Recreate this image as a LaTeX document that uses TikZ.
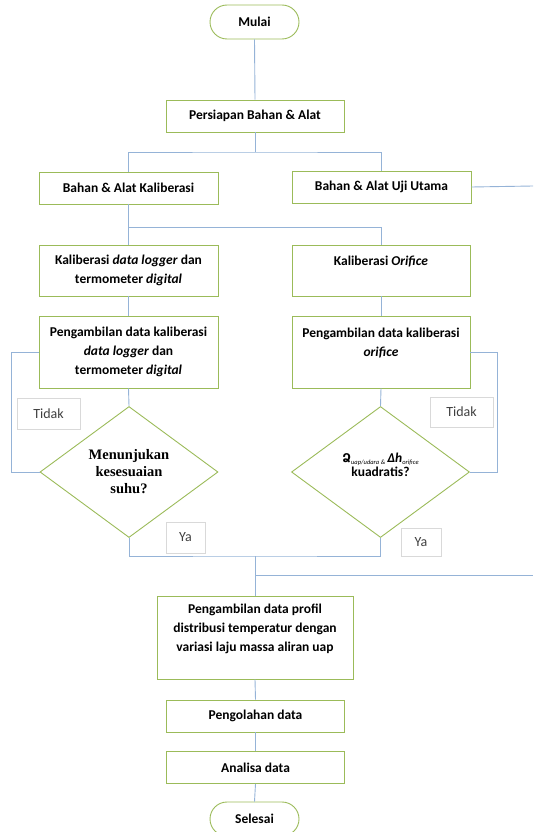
\documentclass[tikz,border=0pt]{standalone}
\usepackage{fontspec}
\setmainfont{Carlito}
\newfontfamily\serifface{Liberation Serif}
\newfontfamily\armface{DejaVu Sans}
\usetikzlibrary{shapes.geometric}
\definecolor{boxgreen}{RGB}{155,187,89}
\definecolor{lineblue}{RGB}{149,179,215}
\definecolor{taggray}{RGB}{217,217,217}
\begin{document}
\begin{tikzpicture}[x=1pt, y=-1pt,
  every node/.style={font=\fontsize{13.5}{19}\selectfont\bfseries, align=center, inner sep=1pt},
  proc/.style={draw=boxgreen, line width=0.9pt, shape=rectangle, minimum width=179pt, minimum height=32pt},
  term/.style={proc, rounded corners=17pt, minimum width=89pt, minimum height=34pt},
  decide/.style={draw=boxgreen, line width=0.9pt, shape=diamond, aspect=1.36, inner sep=0pt,
    minimum width=178pt, minimum height=131pt},
  tag/.style={draw=taggray, line width=0.7pt, fill=white, text=black!75,
    font=\fontsize{14}{15}\selectfont, minimum height=31pt},
  link/.style={draw=lineblue, line width=0.9pt}]
\useasboundingbox (0,0) rectangle (533,832);

\node[term] (mulai) at (254.5,22) {Mulai};
\node[proc, minimum width=178pt] (persiapan) at (255,116) {Persiapan Bahan \& Alat};
\node[proc] (bkal) at (128.5,188) {Bahan \& Alat Kaliberasi};
\node[proc] (butama) at (381.5,187) {Bahan \& Alat Uji Utama};
\node[proc, minimum height=51pt] (kaldl) at (128.5,270.5) {Kaliberasi \textit{data logger} dan\\termometer \textit{digital}};
\node[proc, minimum width=178pt, minimum height=51pt] (kalor) at (381,270.5) {Kaliberasi \textit{Orifice}\\\mbox{}};
\node[proc, minimum height=72pt] (ambdl) at (128.5,352) {Pengambilan data kaliberasi\\\textit{data logger} dan\\termometer \textit{digital}};
\node[proc, minimum width=178pt, minimum height=72pt] (ambor) at (381,352) {Pengambilan data kaliberasi\\\textit{orifice}\\\mbox{}};
\node[decide, font=\serifface\fontsize{14.5}{17}\selectfont\bfseries] (cekdl) at (129,472) {Menunjukan\\kesesuaian\\suhu?};
\node[decide, font=\fontsize{13.5}{14}\selectfont\bfseries] (cekor) at (380.5,472)
  {{\armface\fontsize{12}{14}\selectfont Ձ}\raisebox{-2pt}{\fontsize{6.5}{7}\selectfont\mdseries\itshape uap/udara \&}\,\textit{Δh}\raisebox{-2pt}{\fontsize{6.5}{7}\selectfont\mdseries\itshape orifice}\\kuadratis?\\\mbox{}};
\node[tag, minimum width=63pt] (tidakdl) at (48.5,413.5) {Tidak};
\node[tag, minimum width=63pt, minimum height=30pt] (tidakor) at (461.5,412) {Tidak};
\node[tag, minimum width=39pt] (yadl) at (185.5,537.5) {Ya};
\node[tag, minimum width=40pt, minimum height=28pt] (yaor) at (421,542) {Ya};
\node[proc, minimum width=196pt, minimum height=83pt] (profil) at (255,637.5) {Pengambilan data profil\\distribusi temperatur dengan\\variasi laju massa aliran uap\\\mbox{}};
\node[proc, minimum width=178pt] (olah) at (255.5,716) {Pengolahan data};
\node[proc, minimum width=178pt] (analisa) at (255.5,767.5) {Analisa data};
\node[term] (selesai) at (254.5,819) {Selesai};

\coordinate (split1) at (255,152);
\coordinate (split2) at (128.5,227);
\coordinate (merge) at (255,556);
\coordinate (tap) at (255,575);
\coordinate (outtop) at (533,186);
\coordinate (outbot) at (533,575);

\draw[link] (mulai.south) -- (persiapan.north);
\draw[link] (persiapan.south) -- (split1);
\draw[link] (bkal.north) |- (split1) -| (butama.north);
\draw[link] (butama.east) -- (outtop);
\draw[link] (bkal.south) -- (kaldl.north);
\draw[link] (split2) -| (kalor.north);
\draw[link] (kaldl.south) -- (ambdl.north);
\draw[link] (kalor.south) -- (ambor.north);
\draw[link] (ambdl.south) -- (cekdl.north);
\draw[link] (ambor.south) -- (cekor.north);
\draw[link] (cekdl.west) -- ++(-28,0) |- (ambdl.west);
\draw[link] (cekor.east) -- ++(27,0) |- (ambor.east);
\draw[link] (cekdl.south) |- (merge) -| (cekor.south);
\draw[link] (merge) -- (profil.north);
\draw[link] (tap) -- (outbot);
\draw[link] (profil.south) -- (olah.north);
\draw[link] (olah.south) -- (analisa.north);
\draw[link] (analisa.south) -- (selesai.north);
\end{tikzpicture}
\end{document}
